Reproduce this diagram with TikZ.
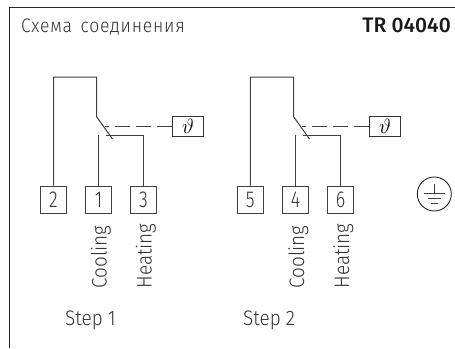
\documentclass[tikz,border=0pt]{standalone}
\usepackage{fontspec}
\setmainfont{Fira Sans}[UprightFont=* Light,BoldFont=* Medium]
\newfontfamily\labfont{Fira Sans}[UprightFont=* Light,FakeStretch=0.9]
\newfontfamily\numfont{Fira Sans}[UprightFont=* Light,FakeStretch=0.78]
\newfontfamily\headfont{Fira Sans}[UprightFont=* Light,FakeStretch=0.9,LetterSpace=4]
\tikzset{
 wire/.style={draw=black!75,line width=1pt},
 term/.style={draw=black!75,line width=0.9pt,minimum width=26pt,minimum height=27pt,inner sep=0pt,font=\numfont\fontsize{23}{23}\selectfont,text=black!80},
 sensor/.style={draw=black!80,line width=0.9pt,minimum width=31pt,minimum height=20pt,inner sep=0pt,font=\fontsize{22}{22}\selectfont},
 vlabel/.style={rotate=90,anchor=base west,inner sep=0pt,font=\labfont\fontsize{21}{21}\selectfont,text=black!80},
 slabel/.style={anchor=base west,inner sep=0pt,font=\labfont\fontsize{21}{21}\selectfont,text=black!80},
}
\begin{document}
\begin{tikzpicture}[x=1pt,y=-1pt]
\useasboundingbox (0,0) rectangle (455,348);
\fill[white] (0,0) rectangle (455,348);
\coordinate (fa) at (9.5,348); \coordinate (fb) at (9.5,7); \coordinate (fc) at (455,7);
\draw[line width=1pt,draw=black!85] (fa) -- (fb) -- (fc);
\node[slabel,font=\headfont\fontsize{19.5}{20}\selectfont] (title) at (21,32) {Схема\hspace{3pt} соединения};
\node[slabel,font=\fontsize{21}{21}\selectfont\bfseries,text=black!90,anchor=base east] (code) at (451,32) {TR 04040};
% Step 1
\node[term] (t2) at (53.5,199.5) {2};
\node[term] (t1) at (98.5,199.5) {1};
\node[term] (t3) at (143.5,199.5) {3};
\node[sensor] (s1) at (188,126) {$\vartheta$};
\coordinate (a1) at (53.5,77); \coordinate (b1) at (96.5,77); \coordinate (c1) at (96.5,116.6);
\coordinate (d1) at (112.5,139); \coordinate (e1) at (98.5,135); \coordinate (f1) at (143.5,135); \coordinate (g1) at (105.5,135); \coordinate (h1) at (105,126);
\draw[wire] (t2.north) -- (a1) -- (b1) -- (c1) -- (d1);
\draw[wire] (t1.north) -- (e1);
\draw[wire] (t3.north) -- (f1) -- (g1);
\draw[wire,dash pattern=on 15pt off 6pt] (s1.west) -- (h1);
\node[vlabel] (cool1) at (106.7,288.7) {Cooling};
\node[vlabel] (heat1) at (151.7,288.7) {Heating};
\node[slabel] (step1) at (65,325.5) {Step 1};
% Step 2
\node[term] (t5) at (250.3,199.5) {5};
\node[term] (t4) at (295.5,199.5) {4};
\node[term] (t6) at (340.5,199.5) {6};
\node[sensor] (s2) at (385,126) {$\vartheta$};
\coordinate (a2) at (250.3,77); \coordinate (b2) at (293.5,77); \coordinate (c2) at (293.5,116.6);
\coordinate (d2) at (309.5,139); \coordinate (e2) at (295.5,135); \coordinate (f2) at (340.5,135); \coordinate (g2) at (302.5,135); \coordinate (h2) at (302,126);
\draw[wire] (t5.north) -- (a2) -- (b2) -- (c2) -- (d2);
\draw[wire] (t4.north) -- (e2);
\draw[wire] (t6.north) -- (f2) -- (g2);
\draw[wire,dash pattern=on 15pt off 6pt] (s2.west) -- (h2);
\node[vlabel] (cool2) at (304,288.7) {Cooling};
\node[vlabel] (heat2) at (349,288.7) {Heating};
\node[slabel] (step2) at (243,325.5) {Step 2};
% Earth
\node[circle,draw=black!85,line width=0.9pt,minimum size=34pt,inner sep=0pt] (pe) at (434.3,194) {};
\draw[wire,line width=0.9pt] (434.3,184) -- (434.3,193) (424,193) -- (445,193) (428,198.3) -- (441,198.3) (430.5,203.7) -- (438,203.7);
\end{tikzpicture}
\end{document}
